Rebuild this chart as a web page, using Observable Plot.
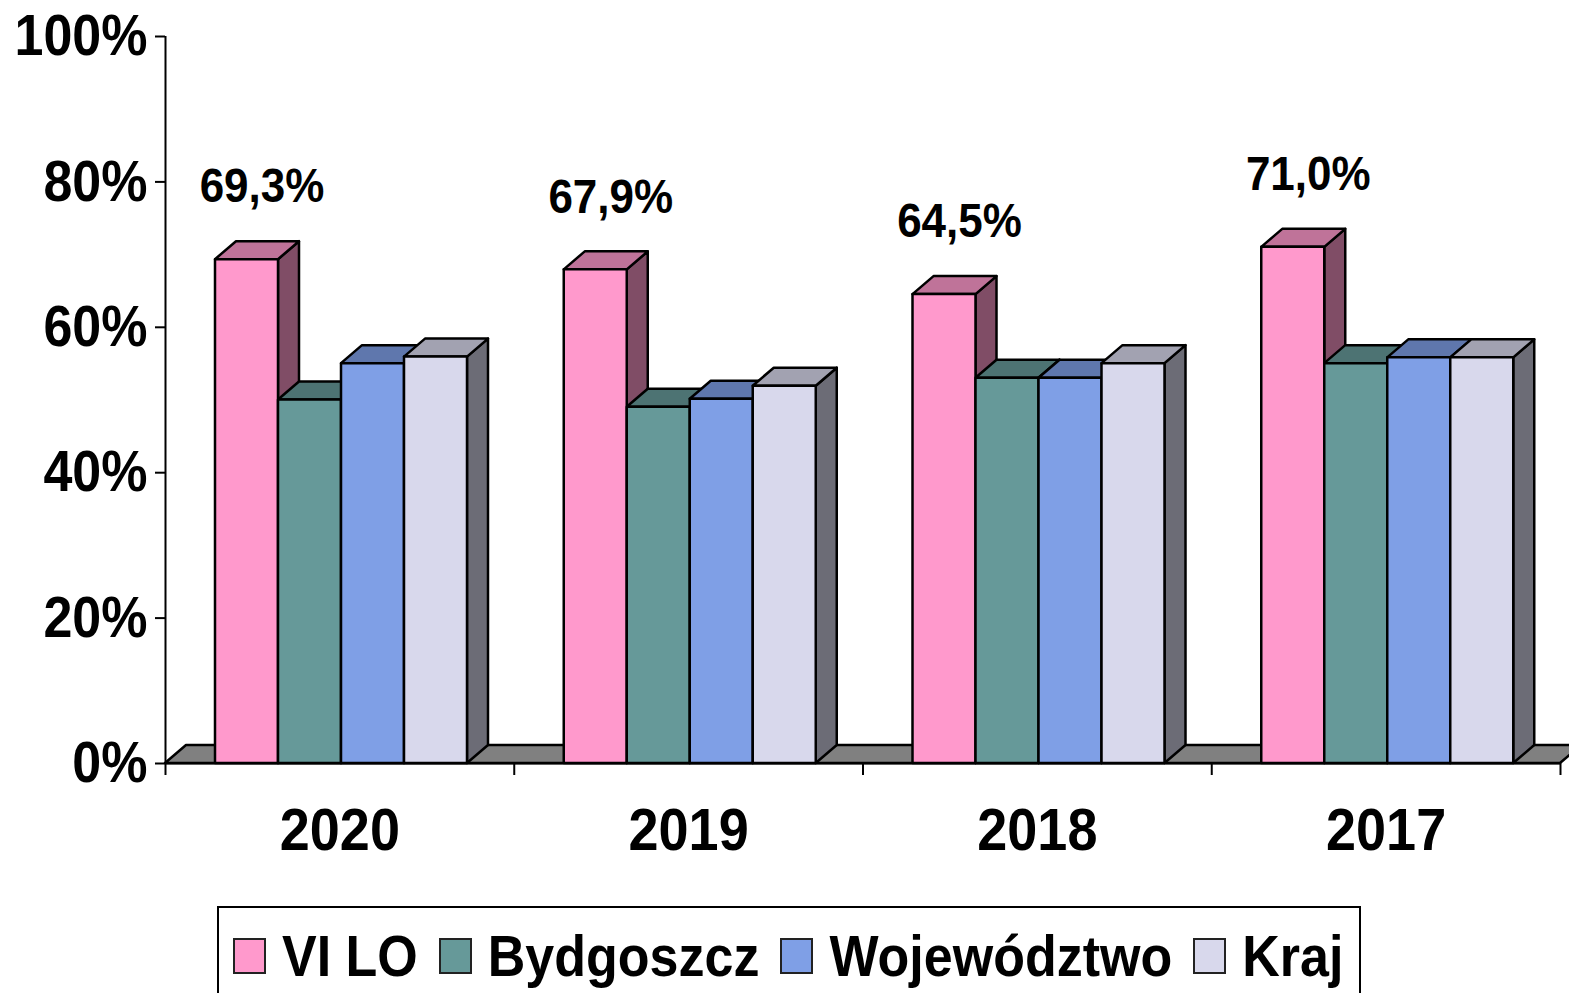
<!DOCTYPE html>
<html>
<head>
<meta charset="utf-8">
<script src="https://cdn.jsdelivr.net/npm/d3@7"></script>
<script src="https://cdn.jsdelivr.net/npm/@observablehq/plot@0.6"></script>
<style>
  html, body { margin: 0; padding: 0; background: white; overflow: hidden; }
  body { font-family: "Liberation Sans", Arial, sans-serif; }
  #chart svg { display: block; }
  .legend {
    margin-left: 217px; width: 1144px; height: 100px; box-sizing: border-box;
    border: 2px solid #000; display: flex; align-items: center; padding-left: 14px;
    white-space: nowrap;
  }
  .legend .item { display: flex; align-items: center; margin-right: 21px; flex: 0 0 auto; white-space: nowrap; }
  .legend .sw { width: 33px; height: 36px; box-sizing: border-box; border: 2px solid #222; margin-right: 16px; flex: 0 0 auto; }
  .legend .lab { font-size: 52px; font-weight: bold; line-height: 1; display: inline-block; transform: scaleY(1.11); color: #000; white-space: nowrap; }
</style>
</head>
<body>
<div id="chart"></div>
<div class="legend" id="legend"></div>
<script>
// ---- data ----
const years = ["2020", "2019", "2018", "2017"];
const seriesNames = ["VI LO", "Bydgoszcz", "Województwo", "Kraj"];
const viLO = [69.3, 67.9, 64.5, 71.0];
const bydgoszcz = [50.0, 49.0, 53.0, 55.0];
const wojewodztwo = [55.0, 50.1, 53.0, 55.8];
const kraj = [55.9, 51.9, 55.0, 55.8];
const yTicks = [0, 20, 40, 60, 80, 100];
const frontColors = ["#FF99CC", "#669999", "#7F9FE6", "#D8D8EC"];

// ---- styling / layout constants ----
const W = 1569, H = 906;
const FONT = '"Liberation Sans", Arial, sans-serif';
const groupPad = 50 / 348.75;   // offset of first bar within a year group (x units)
const barW = 63 / 348.75;       // bar width (x units)
const depthX = 21 / 348.75;     // 3D depth in x units
const depthY = 18 / 7.27;       // 3D depth in y units (%)

function shade(c, k) {
  const r = d3.rgb(c);
  return d3.rgb(r.r * k, r.g * k, r.b * k).formatHex();
}

const seriesValues = [viLO, bydgoszcz, wojewodztwo, kraj];
const bars = [];
years.forEach((yr, i) => {
  seriesNames.forEach((s, j) => {
    const x0 = i + groupPad + j * barW;
    bars.push({id: `${i}-${j}`, i, j, x0, x1: x0 + barW, v: seriesValues[j][i],
               front: frontColors[j], top: shade(frontColors[j], 0.75), side: shade(frontColors[j], 0.5)});
  });
});

const topPts = bars.flatMap(b => [
  {id: b.id, c: b.top, x: b.x0, y1: b.v, y2: b.v},
  {id: b.id, c: b.top, x: b.x0 + depthX, y1: b.v, y2: b.v + depthY},
  {id: b.id, c: b.top, x: b.x1, y1: b.v, y2: b.v + depthY},
  {id: b.id, c: b.top, x: b.x1 + depthX, y1: b.v + depthY, y2: b.v + depthY}
]);
const sidePts = bars.flatMap(b => [
  {id: b.id, c: b.side, x: b.x1, y1: 0, y2: b.v},
  {id: b.id, c: b.side, x: b.x1 + depthX, y1: depthY, y2: b.v + depthY}
]);
const nG = years.length;
const floorPts = [
  {x: 0, y1: 0, y2: 0},
  {x: depthX, y1: 0, y2: depthY},
  {x: nG, y1: 0, y2: depthY},
  {x: nG + depthX, y1: depthY, y2: depthY}
];
const labels = bars.filter(b => b.j === 0);

const stroke = {stroke: "#000", strokeWidth: 2.5, strokeLinejoin: "round"};

const plot = Plot.plot({
  width: W, height: H,
  marginLeft: 165, marginRight: 9, marginTop: 36, marginBottom: H - 763,
  x: {domain: [0, nG], axis: null},
  y: {domain: [0, 100], axis: null},
  color: {type: "identity"},
  style: {fontFamily: FONT, background: "white", color: "#000"},
  marks: [
    Plot.areaY(floorPts, {x: "x", y1: "y1", y2: "y2", fill: "#808080", ...stroke}),
    Plot.areaY(sidePts, {x: "x", y1: "y1", y2: "y2", z: "id", fill: "c", ...stroke}),
    Plot.areaY(topPts, {x: "x", y1: "y1", y2: "y2", z: "id", fill: "c", ...stroke}),
    Plot.rect(bars, {x1: "x0", x2: "x1", y1: 0, y2: "v", fill: "front", ...stroke}),
    Plot.ruleY([0], {x1: 0, x2: nG, stroke: "#000", strokeWidth: 2}),
    Plot.ruleX([0], {y1: 0, y2: 100, stroke: "#000", strokeWidth: 2}),
    Plot.ruleX(d3.range(nG + 1), {x: d => d, y1: 0, y2: -1.65, stroke: "#000", strokeWidth: 2}),
    Plot.axisY({ticks: yTicks, tickSize: 10, tickPadding: 8, tickFormat: d => d + "%",
                fontSize: 52, fontWeight: "bold", label: null, strokeWidth: 2}),
    Plot.text(years, {x: (d, i) => i + 0.5, y: 0, dy: 67, text: d => d,
                      fontSize: 54, fontWeight: "bold", fill: "#000"}),
    Plot.text(labels, {x: b => b.x0 + barW / 2, y: "v", dx: 15, dy: -73,
                       text: b => b.v.toFixed(1).replace(".", ",") + "%",
                       fontSize: 44, fontWeight: "bold", fill: "#000"})
  ]
});
document.getElementById("chart").appendChild(plot);

// vertical stretch of text to match the reference's tall bold lettering
const K = 1.11;
plot.querySelectorAll("text").forEach(t => {
  const bb = t.getBBox();
  const cx = bb.x + bb.width / 2, cy = bb.y + bb.height / 2;
  const prev = t.getAttribute("transform") || "";
  t.setAttribute("transform", `${prev} translate(${cx},${cy}) scale(1,${K}) translate(${-cx},${-cy})`);
});

// legend
const leg = document.getElementById("legend");
seriesNames.forEach((s, j) => {
  const it = document.createElement("div");
  it.className = "item";
  const sw = document.createElement("div");
  sw.className = "sw";
  sw.style.background = frontColors[j];
  const lab = document.createElement("span");
  lab.className = "lab";
  lab.textContent = s;
  it.appendChild(sw); it.appendChild(lab);
  leg.appendChild(it);
});
</script>
</body>
</html>
